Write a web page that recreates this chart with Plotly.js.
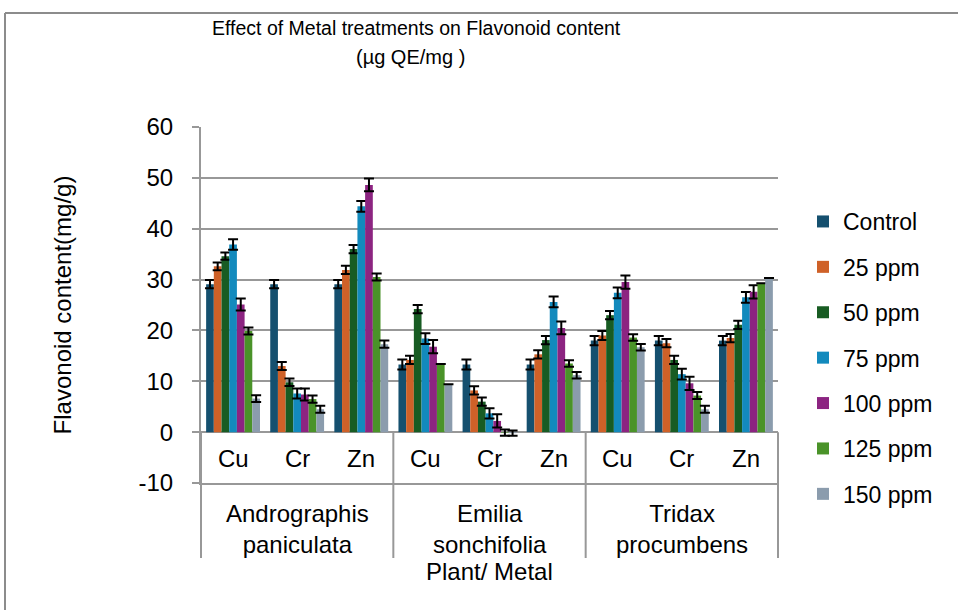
<!DOCTYPE html>
<html>
<head>
<meta charset="utf-8">
<script src="https://cdn.plot.ly/plotly-3.0.1.min.js"></script>
<style>
  html, body { margin: 0; padding: 0; background: #ffffff; }
  #chart { width: 958px; height: 610px; }
</style>
</head>
<body>
<div id="chart"></div>
<script>
// ---- data ----
const plants = ["Andrographis paniculata", "Emilia sonchifolia", "Tridax procumbens"];
const plantLabels = ["Andrographis<br>paniculata", "Emilia<br>sonchifolia", "Tridax<br>procumbens"];
const metals = ["Cu", "Cr", "Zn"];
const seriesNames = ["Control", "25 ppm", "50 ppm", "75 ppm", "100 ppm", "125 ppm", "150 ppm"];
const yTickVals = [-10, 0, 10, 20, 30, 40, 50, 60];
const yTickText = ["-10", "0", "10", "20", "30", "40", "50", "60"];

// values in order: Andrographis Cu, Cr, Zn, Emilia Cu, Cr, Zn, Tridax Cu, Cr, Zn
const control = [29.1, 29.1, 29.1, 13.3, 13.3, 13.3, 18.0, 18.0, 18.0];
const ppm25   = [32.6, 13.0, 31.9, 14.2,  8.2, 15.3, 19.0, 17.5, 18.5];
const ppm50   = [34.6,  9.8, 36.0, 24.2,  6.0, 18.1, 23.0, 14.2, 21.1];
const ppm75   = [36.9,  7.6, 44.4, 18.4,  3.7, 25.6, 27.4, 11.4, 26.5];
const ppm100  = [25.1,  7.4, 48.6, 16.8,  2.2, 20.5, 29.5,  9.6, 27.6];
const ppm125  = [19.9,  6.5, 30.5, 13.4, -0.1, 13.5, 18.6,  7.2, 29.3];
const ppm150  = [ 6.6,  4.5, 17.3,  9.4, -0.2, 11.2, 16.7,  4.5, 30.3];

const errControl = [0.8, 0.8, 0.8, 1.0, 1.0, 1.0, 0.9, 0.9, 0.9];
const err25      = [0.75, 0.8, 0.8, 0.8, 0.8, 0.8, 0.9, 0.8, 0.8];
const err50      = [0.7, 0.75, 0.8, 0.8, 0.8, 0.8, 0.8, 0.8, 0.8];
const err75      = [1.05, 1.0, 1.05, 1.05, 1.0, 1.05, 1.05, 1.05, 1.05];
const err100     = [1.2, 1.2, 1.25, 1.3, 1.3, 1.25, 1.3, 1.3, 1.3];
const err125     = [0.7, 0.7, 0.7, 0.0, 0.6, 0.65, 0.65, 0.7, 0.0];
const err150     = [0.65, 0.7, 0.7, 0.0, 0.5, 0.65, 0.65, 0.7, 0.0];

const colors = ["#15506F", "#CF6128", "#185C23", "#138ABD", "#8C2481", "#4A9329", "#8B9CAD"];

const yTitle = "Flavonoid content(mg/g)";
const chartTitle = "Effect of Metal treatments on Flavonoid content";
const chartSubtitle = "(µg QE/mg )";
const xTitle = "Plant/ Metal";

// ---- build ----
const xOuter = [], xInner = [];
plants.forEach(p => metals.forEach(m => { xOuter.push(p); xInner.push(m); }));

const allValues = [control, ppm25, ppm50, ppm75, ppm100, ppm125, ppm150];
const allErrors = [errControl, err25, err50, err75, err100, err125, err150];

const FONT = "Liberation Sans, Arial, sans-serif";

const traces = seriesNames.map((name, i) => ({
  type: "bar",
  name: name,
  legendgroup: "g" + i,
  x: [xOuter, xInner],
  y: allValues[i],
  marker: { color: colors[i], line: { width: 0 } },
  error_y: { type: "data", array: allErrors[i], visible: true, color: "#000000", thickness: 2, width: 5 }
}));

// pixel geometry helpers (plot area: x 201..778, y 127..483)
const L = 201, R = 778, T = 127, B = 483;
const W = R - L, H = B - T;
const px = v => (v - L) / W;
const py = v => (B - v) / H;

const grey = "#989898";
const shapes = [];
// vertical separators below the zero line
[0, 1/3, 2/3, 1].forEach(xp => {
  shapes.push({ type: "line", xref: "paper", yref: "paper", x0: xp, x1: xp, y0: 10/70, y1: py(558), line: { color: grey, width: 2 } });
});
// chart frame (top and left edges)
shapes.push({ type: "line", xref: "paper", yref: "paper", x0: px(5), x1: px(960), y0: py(13), y1: py(13), line: { color: "#8C8C8C", width: 2 } });
shapes.push({ type: "line", xref: "paper", yref: "paper", x0: px(5), x1: px(5), y0: py(13), y1: py(612), line: { color: "#8C8C8C", width: 2 } });

const annotations = [];
// inner category labels
xInner.forEach((m, i) => {
  annotations.push({ xref: "paper", yref: "y", x: (i + 0.5) / 9, y: -5.2, text: m, showarrow: false,
    xanchor: "center", yanchor: "middle",
    font: { family: FONT, size: 24, color: "#000" } });
});
// outer category labels
plantLabels.forEach((p, i) => {
  annotations.push({ xref: "paper", yref: "paper", x: (i + 0.5) / 3, y: py(529), text: p, showarrow: false,
    xanchor: "center", yanchor: "middle",
    font: { family: FONT, size: 24, color: "#000" } });
});
annotations.push({ xref: "paper", yref: "paper", x: 0.5, y: py(571), text: xTitle, showarrow: false,
  xanchor: "center", yanchor: "middle",
  font: { family: FONT, size: 24, color: "#000" } });
// title lines
annotations.push({ xref: "paper", yref: "paper", x: px(416), y: py(28), text: chartTitle, showarrow: false,
  xanchor: "center", yanchor: "middle",
  font: { family: FONT, size: 19.5, color: "#000" } });
annotations.push({ xref: "paper", yref: "paper", x: px(410), y: py(57), text: chartSubtitle, showarrow: false,
  xanchor: "center", yanchor: "middle",
  font: { family: FONT, size: 20, color: "#000" } });

const layout = {
  width: 958, height: 610,
  margin: { l: L, r: 958 - R, t: T, b: 610 - B, pad: 0 },
  paper_bgcolor: "#ffffff", plot_bgcolor: "#ffffff",
  barmode: "group", bargap: 0.16, bargroupgap: 0,
  showlegend: true,
  legend: {
    x: px(803), xanchor: "left", y: py(200), yanchor: "top",
    font: { family: FONT, size: 23, color: "#000" },
    tracegroupgap: 12.5, traceorder: "grouped", bgcolor: "rgba(0,0,0,0)",
    itemwidth: 30
  },
  xaxis: {
    type: "multicategory", showticklabels: false, showdividers: false, ticks: "",
    showgrid: false, zeroline: false, showline: true, linecolor: grey, linewidth: 2
  },
  yaxis: {
    range: [-10, 60], tickmode: "array", tickvals: yTickVals, ticktext: yTickText,
    showgrid: true, gridcolor: grey, gridwidth: 2,
    zeroline: false, showline: true, linecolor: grey, linewidth: 2,
    ticks: "outside", ticklen: 7, tickwidth: 2, tickcolor: grey,
    ticklabelstandoff: 14,
    tickfont: { family: FONT, size: 24, color: "#000" },
    title: { text: yTitle, font: { family: FONT, size: 24, color: "#000" }, standoff: 60 }
  },
  shapes: shapes,
  annotations: annotations
};

Plotly.newPlot("chart", traces, layout, { displayModeBar: false, staticPlot: true });
</script>
</body>
</html>
